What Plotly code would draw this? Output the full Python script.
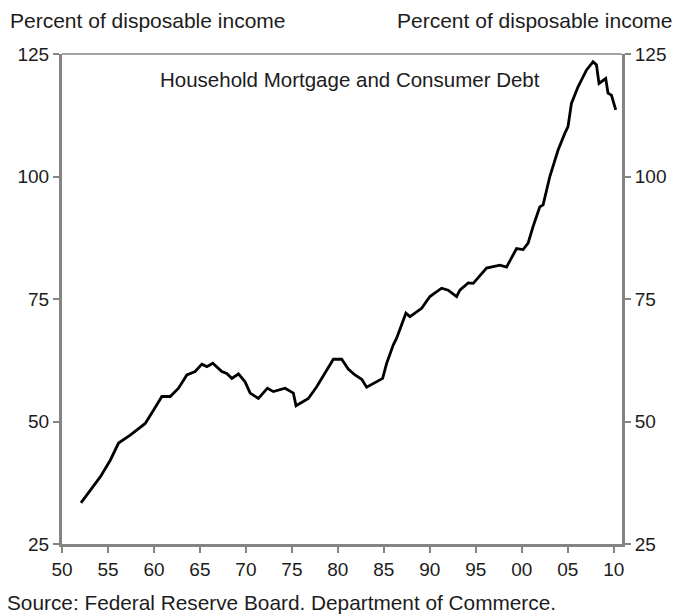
import plotly.graph_objects as go

# Household mortgage and consumer debt, percent of disposable income
years = [1952.06, 1953.43, 1954.16, 1955.25, 1956.15, 1957.42, 1958.51, 1959.05, 1959.95,
         1960.86, 1961.77, 1962.67, 1963.58, 1964.48, 1965.21, 1965.75, 1966.40, 1967.38,
         1967.92, 1968.47, 1969.19, 1969.91, 1970.46, 1971.36, 1972.34, 1972.99, 1974.26,
         1975.16, 1975.45, 1976.79, 1977.70, 1978.60, 1979.51, 1980.42, 1981.13, 1981.86,
         1982.59, 1983.13, 1984.22, 1984.87, 1985.31, 1986.02, 1986.39, 1986.94, 1987.40,
         1987.84, 1989.11, 1990.01, 1991.28, 1992.00, 1992.91, 1993.27, 1994.17, 1994.72,
         1995.63, 1996.17, 1997.62, 1998.34, 1999.43, 2000.15, 2000.69, 2001.23, 2001.96,
         2002.32, 2003.05, 2003.95, 2004.68, 2005.03, 2005.40, 2006.12, 2007.03, 2007.75,
         2008.12, 2008.40, 2009.13, 2009.38, 2009.75, 2010.22]
debt = [33.4, 36.7, 38.7, 42.1, 45.6, 47.2, 48.8, 49.6, 52.3,
        55.1, 55.1, 56.8, 59.5, 60.2, 61.7, 61.2, 61.9, 60.2,
        59.8, 58.8, 59.7, 58.1, 55.8, 54.7, 56.8, 56.1, 56.8,
        55.8, 53.2, 54.7, 57.1, 59.8, 62.7, 62.7, 60.7, 59.5,
        58.6, 57.0, 58.1, 58.8, 61.9, 65.6, 67.0, 69.7, 72.1,
        71.4, 73.1, 75.5, 77.2, 76.8, 75.5, 76.8, 78.3, 78.2,
        80.2, 81.3, 81.9, 81.5, 85.3, 85.1, 86.4, 89.8, 93.8,
        94.2, 100.0, 105.4, 108.8, 110.2, 114.9, 118.3, 121.7, 123.4,
        122.8, 119.0, 120.0, 117.0, 116.6, 113.6]

x_tickvals = [1950, 1955, 1960, 1965, 1970, 1975, 1980, 1985, 1990, 1995, 2000, 2005, 2010]
x_ticktext = ["50", "55", "60", "65", "70", "75", "80", "85", "90", "95", "00", "05", "10"]
y_tickvals = [25, 50, 75, 100, 125]

title_text = "Household Mortgage and Consumer Debt"
unit_text = "Percent of disposable income"
source_text = "Source: Federal Reserve Board. Department of Commerce."

FONT = "Liberation Sans, Arial, sans-serif"
TXT = "#1c1c1c"
AX = "#848484"

fig = go.Figure()
fig.add_trace(go.Scatter(x=years, y=debt, mode="lines",
                         line=dict(color="black", width=2.8), showlegend=False,
                         hoverinfo="skip"))
fig.add_trace(go.Scatter(x=years, y=debt, mode="lines", yaxis="y2",
                         line=dict(color="rgba(0,0,0,0)", width=0), showlegend=False,
                         hoverinfo="skip"))

tick_font = dict(size=19, family=FONT, color=TXT)
axis_common = dict(showgrid=False, zeroline=False, showline=True, linecolor=AX, linewidth=3,
                   ticks="outside", ticklen=6, tickcolor=AX, tickwidth=2,
                   tickfont=tick_font, automargin=False)

fig.update_layout(
    width=679, height=616,
    margin=dict(l=62, r=57, t=54, b=72, autoexpand=False),
    paper_bgcolor="white", plot_bgcolor="white",
    font=dict(family=FONT, color=TXT, size=19),
    xaxis=dict(range=[1950, 2010.9], tickvals=x_tickvals, ticktext=x_ticktext, **axis_common),
    yaxis=dict(range=[25, 125], tickvals=y_tickvals, **axis_common),
    yaxis2=dict(range=[25, 125], tickvals=y_tickvals, overlaying="y", side="right",
                **axis_common),
    shapes=[dict(type="line", xref="paper", yref="paper", x0=0, x1=1, y0=1, y1=1,
                 line=dict(color=AX, width=1.5))],
    annotations=[
        dict(text=title_text, xref="paper", yref="paper", x=0.514, y=0.947,
             xanchor="center", yanchor="middle", showarrow=False,
             font=dict(size=20.5, family=FONT, color=TXT)),
        dict(text=unit_text, xref="paper", yref="paper", x=-0.0964, y=1.069,
             xanchor="left", yanchor="middle", showarrow=False,
             font=dict(size=21, family=FONT, color=TXT)),
        dict(text=unit_text, xref="paper", yref="paper", x=1.0946, y=1.069,
             xanchor="right", yanchor="middle", showarrow=False,
             font=dict(size=21, family=FONT, color=TXT)),
        dict(text=source_text, xref="paper", yref="paper", x=-0.1018, y=-0.120,
             xanchor="left", yanchor="middle", showarrow=False,
             font=dict(size=20.8, family=FONT, color=TXT)),
    ],
)

fig.write_html("out.html", config={"displayModeBar": False},
               post_script="document.body.style.margin='0';document.body.style.overflow='hidden';")
